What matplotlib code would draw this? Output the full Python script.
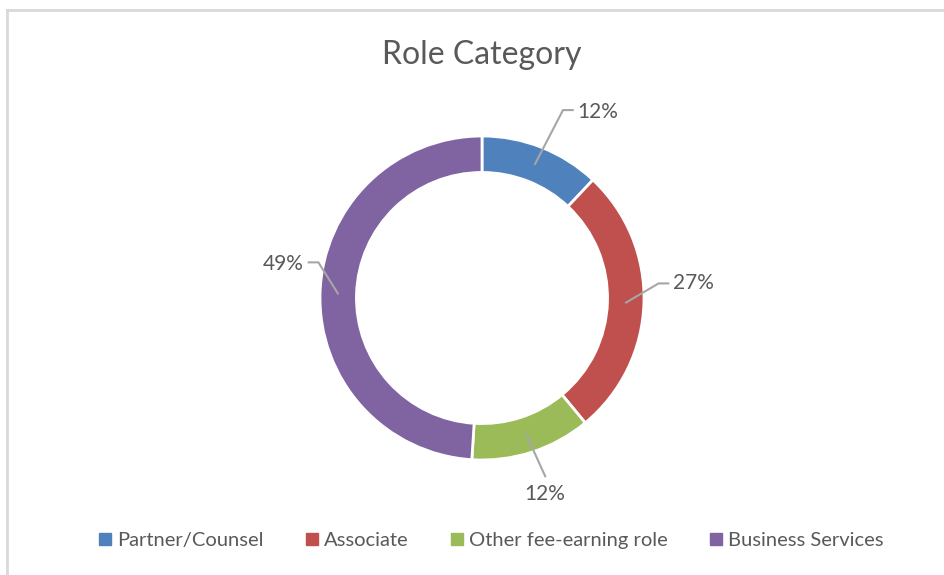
import numpy as np
import matplotlib
matplotlib.use("Agg")
import matplotlib.pyplot as plt
from matplotlib.lines import Line2D

categories = ["Partner/Counsel", "Associate", "Other fee-earning role", "Business Services"]
shares = [12, 27, 12, 49]
labels = ["12%", "27%", "12%", "49%"]
colors = ["#4F81BD", "#C0504D", "#9BBB59", "#8064A2"]

# label layout (in radius units): text position, elbow point
label_pos = [(0.75, 1.15), (1.34, 0.09), (0.39, -1.21), (-1.29, 0.21)]
elbow_pos = [(0.50, 1.16), (1.09, 0.09), (None), (-1.01, 0.22)]

plt.rcParams['font.family'] = ['Lato', 'DejaVu Sans']
txt = "#595959"

W, H = 944, 575
cx, cy, R = 482, 298, 162
fig = plt.figure(figsize=(W / 100, H / 100), dpi=100)
ax = fig.add_axes([0, 0, 1, 1])

wedges, _ = ax.pie(shares, colors=colors, startangle=90, counterclock=False, radius=1,
                   wedgeprops=dict(width=0.225, edgecolor="white", linewidth=2))
ax.set_aspect("auto")
ax.set_xlim(-cx / R, (W - cx) / R)
ax.set_ylim(-(H - cy) / R, cy / R)
ax.axis("off")

# leader lines and labels
for w, lab, tp, ep in zip(wedges, labels, label_pos, elbow_pos):
    mid = np.deg2rad((w.theta1 + w.theta2) / 2)
    sx, sy = 0.89 * np.cos(mid), 0.89 * np.sin(mid)
    if ep is None:
        ax.plot([sx, tp[0] - 0.0], [sy, tp[1] + 0.11], color="#a6a6a6", lw=1.5)
        ax.text(tp[0], tp[1], lab, ha="center", va="center", fontsize=15, color=txt)
    else:
        side = 1 if tp[0] > 0 else -1
        ex = ep[0] + side * 0.06
        ax.plot([sx, ep[0], ex], [sy, ep[1], ep[1]], color="#a6a6a6", lw=1.5)
        ax.text(ex + side * 0.03, tp[1], lab, ha="left" if side > 0 else "right",
                va="center", fontsize=15, color=txt)

ax.text(0, (cy - 55) / R, "Role Category", ha="center", va="center", fontsize=23, color=txt)

# chart frame (only top and left visible)
fig.add_artist(Line2D([7 / W, 1], [1 - 9.5 / H, 1 - 9.5 / H], color="#d9d9d9", lw=2))
fig.add_artist(Line2D([7 / W, 7 / W], [0, 1 - 9.5 / H], color="#d9d9d9", lw=2))

handles = [Line2D([], [], marker="s", ls="", color=c, markersize=8) for c in colors]
fig.legend(handles, categories, loc="center", bbox_to_anchor=(489 / W, 1 - 540 / H), ncol=4,
           frameon=False, fontsize=14.5, labelcolor=txt, handletextpad=0.1, columnspacing=1.9,
           handlelength=1.0)

fig.savefig("out.png", dpi=100)
